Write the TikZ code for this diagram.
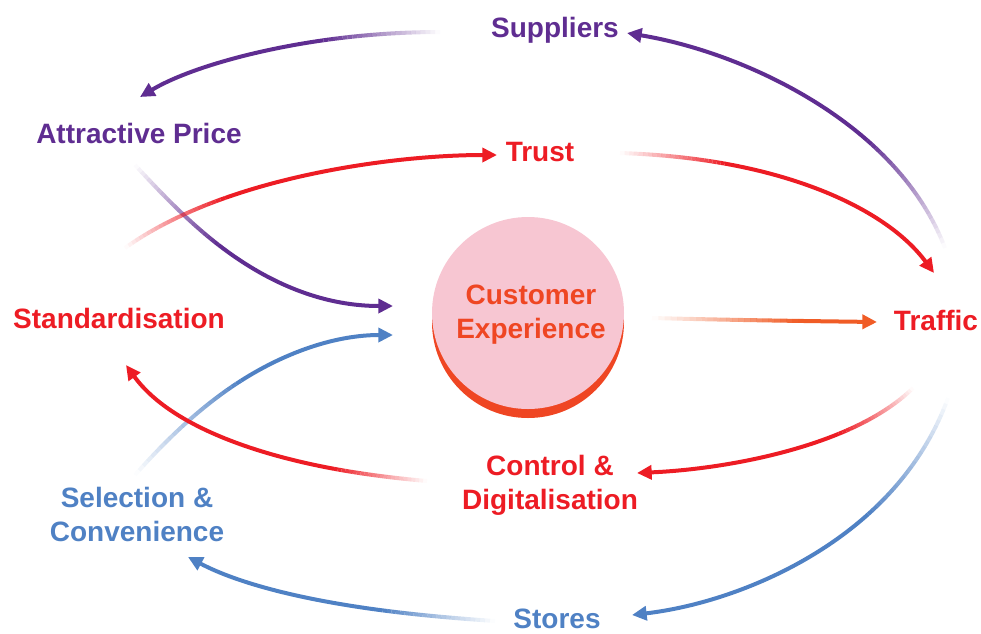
\documentclass[tikz,border=0pt]{standalone}
\usepackage{fontspec}
\setmainfont{Liberation Sans}
\usetikzlibrary{arrows.meta, calc, positioning}

\definecolor{flypurple}{RGB}{95,45,145}
\definecolor{flyred}{RGB}{237,28,36}
\definecolor{flyblue}{RGB}{79,129,196}
\definecolor{flyorange}{RGB}{239,70,35}
\definecolor{flyamber}{RGB}{240,92,38}
\definecolor{flypink}{RGB}{247,198,210}

\tikzset{
    flytext/.style={font=\fontsize{21}{25.5}\selectfont\bfseries, align=center},
    link/.style={line width=3pt, line cap=butt},
    tip/.style={-{Triangle[length=11pt, width=10.5pt]}}
}

% fading curved arrow: [fade part]{colour}{from}{control}{control}{to}
\newcommand\fadelink[6][0.35]{%
    \coordinate (fP0) at #3;
    \coordinate (fP1) at #4;
    \coordinate (fP2) at #5;
    \coordinate (fP3) at #6;
    \coordinate (fA) at ($(fP0)!#1!(fP1)$);
    \coordinate (fB) at ($(fP1)!#1!(fP2)$);
    \coordinate (fC) at ($(fP2)!#1!(fP3)$);
    \coordinate (fD) at ($(fA)!#1!(fB)$);
    \coordinate (fE) at ($(fB)!#1!(fC)$);
    \coordinate (fM) at ($(fD)!#1!(fE)$);
    \foreach \fk [evaluate=\fk as \fpos using \fk/24] in {0,...,24}
        \path (fP0) .. controls (fA) and (fD) .. (fM) coordinate[pos=\fpos] (fq\fk);
    \foreach \fk [evaluate=\fk as \fnext using int(\fk+1), evaluate=\fk as \fop using (\fk+0.5)/24] in {0,...,23}
        \draw[link, #2, opacity=\fop] (fq\fk) -- (fq\fnext);
    \draw[link, #2, tip] (fM) .. controls (fE) and (fC) .. (fP3);
}

\begin{document}
\begin{tikzpicture}[x=0.75pt, y=-0.75pt]
    \useasboundingbox (0,0) rectangle (981,633);

    % hub
    \node[circle, fill=flyorange, minimum size=144pt] (cxrim) at (528,322) {};
    \node[circle, fill=flypink, minimum size=144pt] (cxdisc) at (528,313) {};
    \node[flytext, text=flyorange] (cx) at (531,315) {Customer\\Experience};

    % drivers
    \node[flytext, text=flypurple] (sup) at (555,30) {Suppliers};
    \node[flytext, text=flypurple] (price) at (139,133) {Attractive Price};
    \node[flytext, text=flyred] (trust) at (540,152) {Trust};
    \node[flytext, text=flyred] (std) at (119,318) {Standardisation};
    \node[flytext, text=flyred] (traffic) at (936,320) {Traffic};
    \node[flytext, text=flyred] (ctrl) at (550,485) {Control \&\\Digitalisation};
    \node[flytext, text=flyblue] (sel) at (137,514) {Selection \&\\Convenience};
    \node[flytext, text=flyblue] (stores) at (557,619) {Stores};

    % loop ends
    \coordinate (sup-out) at (440,32);
    \coordinate (price-in) at (140,97);
    \coordinate (price-out) at (135,165);
    \coordinate (cx-in1) at (393,306);
    \coordinate (std-out) at (125,248);
    \coordinate (trust-in) at (497,155);
    \coordinate (trust-out) at (620,153);
    \coordinate (traffic-in1) at (934,273);
    \coordinate (traffic-out1) at (945,248);
    \coordinate (sup-in) at (627,33);
    \coordinate (cx-out) at (652,318);
    \coordinate (traffic-in2) at (877,322);
    \coordinate (traffic-out2) at (913,388);
    \coordinate (ctrl-in) at (637,473);
    \coordinate (traffic-out3) at (948,398);
    \coordinate (stores-in) at (632,615);
    \coordinate (stores-out) at (495,621);
    \coordinate (sel-in) at (188,557);
    \coordinate (ctrl-out) at (427,481);
    \coordinate (std-in) at (126,365);
    \coordinate (sel-out) at (135,475);
    \coordinate (cx-in2) at (393,335);

    \fadelink[0.35]{flypurple}{(sup-out)}{(330,32)}{(210,55)}{(price-in)}
    \fadelink[0.4]{flypurple}{(price-out)}{(200,235)}{(270,306)}{(cx-in1)}
    \fadelink[0.3]{flyred}{(std-out)}{(220,180)}{(380,155)}{(trust-in)}
    \fadelink[0.25]{flyred}{(trust-out)}{(770,158)}{(880,200)}{(traffic-in1)}
    \fadelink[0.35]{flypurple}{(traffic-out1)}{(900,130)}{(760,55)}{(sup-in)}
    \fadelink[0.65]{flyamber}{(cx-out)}{(730,320)}{(800,321)}{(traffic-in2)}
    \fadelink[0.35]{flyred}{(traffic-out2)}{(860,440)}{(750,468)}{(ctrl-in)}
    \fadelink[0.35]{flyblue}{(traffic-out3)}{(900,530)}{(760,600)}{(stores-in)}
    \fadelink[0.3]{flyblue}{(stores-out)}{(360,612)}{(260,595)}{(sel-in)}
    \fadelink[0.45]{flyblue}{(sel-out)}{(210,390)}{(290,335)}{(cx-in2)}
    \fadelink[0.25]{flyred}{(ctrl-out)}{(300,470)}{(180,440)}{(std-in)}
\end{tikzpicture}
\end{document}
